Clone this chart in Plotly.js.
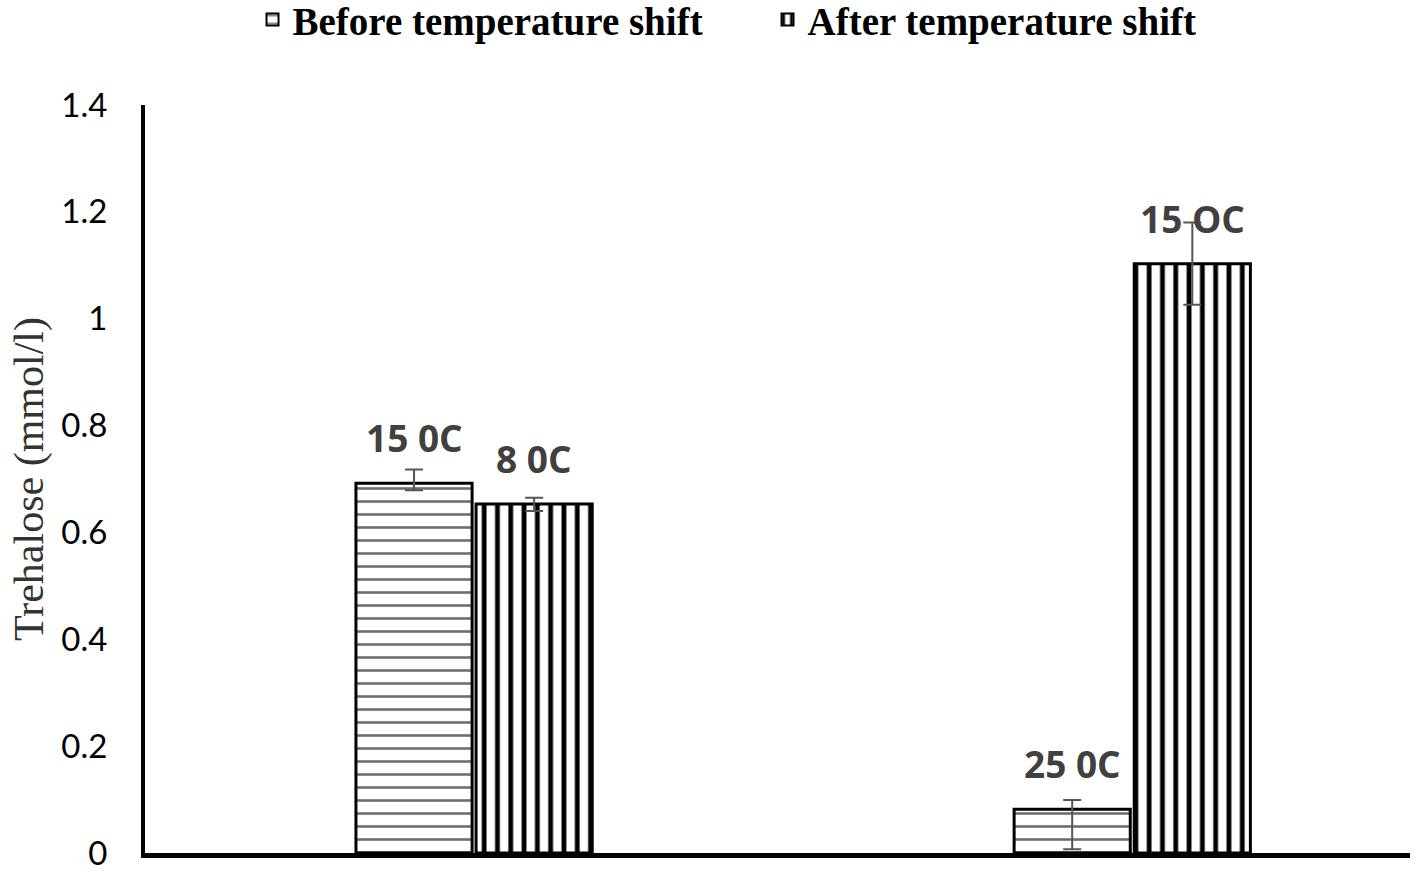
<!DOCTYPE html>
<html>
<head>
<meta charset="utf-8">
<script src="https://cdn.plot.ly/plotly-3.0.1.min.js"></script>
<style>html,body{margin:0;padding:0;background:#fff;}#chart{width:1418px;height:872px;}</style>
</head>
<body>
<div id="chart"></div>
<script>
const categories = ["Group 1", "Group 2"];
const beforeValues = [0.692, 0.082];
const afterValues = [0.653, 1.103];
const beforeErrPlus = [0.026, 0.017];
const beforeErrMinus = [0.013, 0.075];
const afterErrPlus = [0.012, 0.077];
const afterErrMinus = [0.013, 0.077];
const beforeLabels = ["15 0C", "25 0C"];
const afterLabels = ["8 0C", "15 OC"];
const yTicks = [0, 0.2, 0.4, 0.6, 0.8, 1, 1.2, 1.4];
const yTickText = ["0", "0.2", "0.4", "0.6", "0.8", "1", "1.2", "1.4"];

const errStyle = {type: 'data', symmetric: false, color: '#555555', thickness: 2, width: 9};

const before = {
  type: 'bar', name: 'Before temperature shift', x: categories, y: beforeValues,
  marker: {color: '#ffffff', line: {color: '#000000', width: 3},
    pattern: {shape: '-', size: 13, solidity: 0.2, fgcolor: '#6e6e6e', bgcolor: '#ffffff', fillmode: 'replace'}},
  error_y: Object.assign({array: beforeErrPlus, arrayminus: beforeErrMinus}, errStyle),
  hoverinfo: 'skip'
};
const after = {
  type: 'bar', name: 'After temperature shift', x: categories, y: afterValues,
  marker: {color: '#ffffff', line: {color: '#000000', width: 3},
    pattern: {shape: '|', size: 13.3, solidity: 0.36, fgcolor: '#000000', bgcolor: '#ffffff', fillmode: 'replace'}},
  error_y: Object.assign({array: afterErrPlus, arrayminus: afterErrMinus}, errStyle),
  hoverinfo: 'skip'
};

const bargap = 0.635, bargroupgap = 0.033;
const barOffset = (1 - bargap) / 4;
const labelFont = {family: 'Open Sans, Lato, sans-serif', size: 37, color: '#404040', weight: 'bold'};
const annotations = [];
categories.forEach((c, i) => {
  annotations.push({x: i - barOffset, y: beforeValues[i], xref: 'x', yref: 'y', text: '<b>' + beforeLabels[i] + '</b>',
    showarrow: false, yanchor: 'bottom', yshift: 18, font: labelFont});
  annotations.push({x: i + barOffset, y: afterValues[i], xref: 'x', yref: 'y', text: '<b>' + afterLabels[i] + '</b>',
    showarrow: false, yanchor: 'bottom', yshift: 18, font: labelFont});
});

const layout = {
  width: 1418, height: 872,
  margin: {l: 145, r: 8, t: 0, b: 19, pad: 0, autoexpand: false},
  paper_bgcolor: '#ffffff', plot_bgcolor: '#ffffff',
  barmode: 'group', bargap: bargap, bargroupgap: bargroupgap,
  showlegend: true,
  legend: {orientation: 'h', x: 0.085, xanchor: 'left', y: 1.0145, yanchor: 'top',
    font: {family: 'Liberation Serif, Times New Roman, serif', size: 39, color: '#000000', weight: 'bold'},
    entrywidth: 470, entrywidthmode: 'pixels',
    itemsizing: 'constant', bgcolor: 'rgba(0,0,0,0)', borderwidth: 0},
  xaxis: {type: 'category', range: [-0.5, 1.422], showticklabels: false, ticks: '', showgrid: false, zeroline: false,
    showline: true, linecolor: '#000000', linewidth: 5, fixedrange: true},
  yaxis: {domain: [0, 0.8769], range: [0, 1.4], tickvals: yTicks, ticktext: yTickText, ticks: '', showgrid: false, zeroline: false,
    showline: true, linecolor: '#000000', linewidth: 4, ticklabelstandoff: 27,
    tickfont: {family: 'Lato, Open Sans, sans-serif', size: 33, color: '#000000'},
    title: {text: 'Trehalose (mmol/l)', standoff: 6, font: {family: 'Liberation Serif, Times New Roman, serif', size: 42, color: '#333333'}},
    fixedrange: true},
  annotations: annotations
};

Plotly.newPlot('chart', [before, after], layout, {displayModeBar: false, staticPlot: true});
</script>
</body>
</html>
